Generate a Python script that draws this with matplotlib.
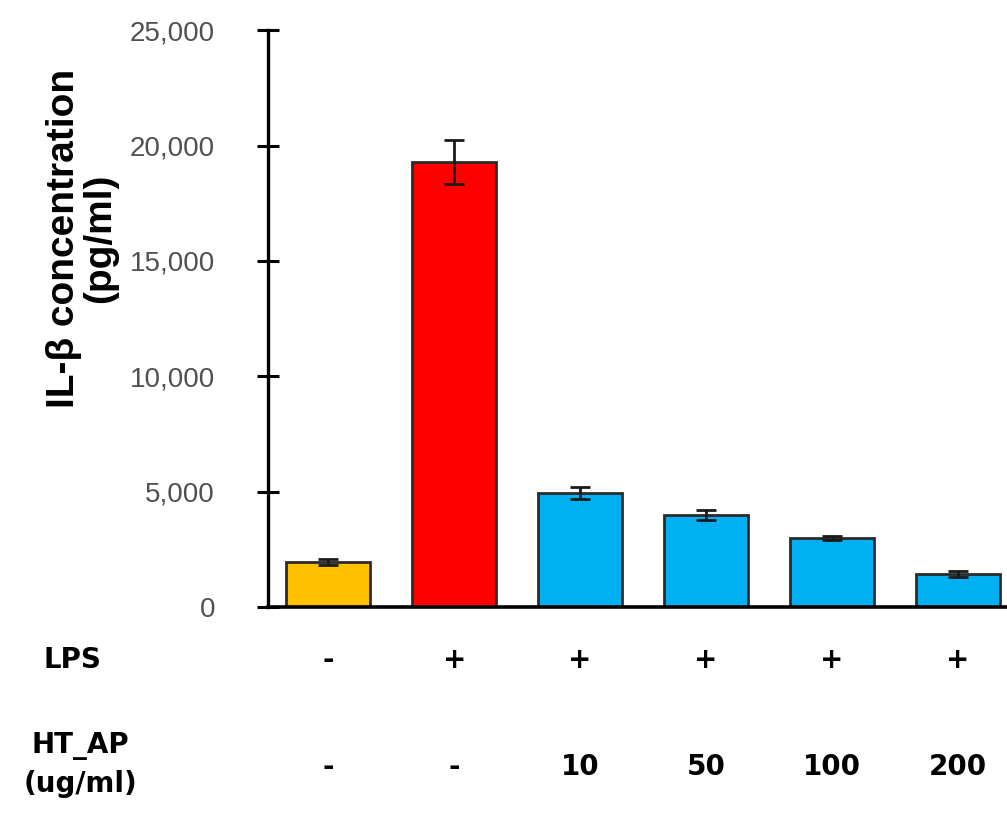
import matplotlib
matplotlib.use("Agg")
import matplotlib.pyplot as plt
import matplotlib.transforms as mtransforms
from matplotlib.ticker import FuncFormatter
import numpy as np

# data
groups = ["ctrl", "LPS", "LPS+10", "LPS+50", "LPS+100", "LPS+200"]
il_beta = [1950, 19300, 4950, 4000, 3000, 1450]
il_beta_err = [120, 950, 250, 200, 100, 120]
lps_row = ["-", "+", "+", "+", "+", "+"]
ht_ap_row = ["-", "-", "10", "50", "100", "200"]
bar_colors = ["#FFC000", "#FF0000", "#00B0F0", "#00B0F0", "#00B0F0", "#00B0F0"]
y_ticks = [0, 5000, 10000, 15000, 20000, 25000]

plt.rcParams.update({"font.family": "DejaVu Sans"})

fig = plt.figure(figsize=(10.07, 8.14), dpi=100)
ax = fig.add_axes([0.266, 0.254, 0.734, 0.709])

x = np.arange(len(groups))
ax.bar(x, il_beta, width=0.67, color=bar_colors, edgecolor="#2b2b2b", linewidth=2.0, zorder=2)
ax.errorbar(x, il_beta, yerr=il_beta_err, fmt="none", ecolor="#1a1a1a",
            elinewidth=2.0, capsize=7, capthick=2.0, zorder=3)

ax.set_xlim(-0.48, 5.39)
ax.set_ylim(0, 25000)
ax.set_yticks(y_ticks)
ax.yaxis.set_major_formatter(FuncFormatter(lambda v, p: f"{int(v):,}"))
ax.tick_params(axis="y", direction="inout", length=16, width=2.2, pad=30,
               labelsize=20, labelcolor="#505050", color="black")
ax.set_xticks([])

for side in ("top", "right"):
    ax.spines[side].set_visible(False)
ax.spines["left"].set_linewidth(2.4)
ax.spines["bottom"].set_linewidth(2.6)
for lab in ax.get_yticklabels():
    lab.set_fontfamily("Liberation Sans")

# y-axis title placed as figure text so it stays inside the canvas
fig.text(82 / 1007, 1 - 238 / 814, "IL-β concentration\n(pg/ml)", rotation=90,
         ha="center", va="center", fontsize=28, fontweight="bold",
         family="Liberation Sans", linespacing=1.0)

# condition rows under the bars
trans = mtransforms.blended_transform_factory(ax.transData, fig.transFigure)
row_font = dict(fontsize=20, fontweight="bold", family="Liberation Sans Narrow")
for xi, lps, ht in zip(x, lps_row, ht_ap_row):
    ax.text(xi, 1 - 660 / 814, lps, transform=trans, ha="center", va="center",
            clip_on=False, **row_font)
    ax.text(xi, 1 - 767 / 814, ht, transform=trans, ha="center", va="center",
            clip_on=False, **row_font)
fig.text(72 / 1007, 1 - 660 / 814, "LPS", ha="center", va="center", **row_font)
fig.text(80 / 1007, 1 - 765 / 814, "HT_AP\n(ug/ml)", ha="center", va="center",
         linespacing=1.5, **row_font)

fig.savefig("out.png", dpi=100)
